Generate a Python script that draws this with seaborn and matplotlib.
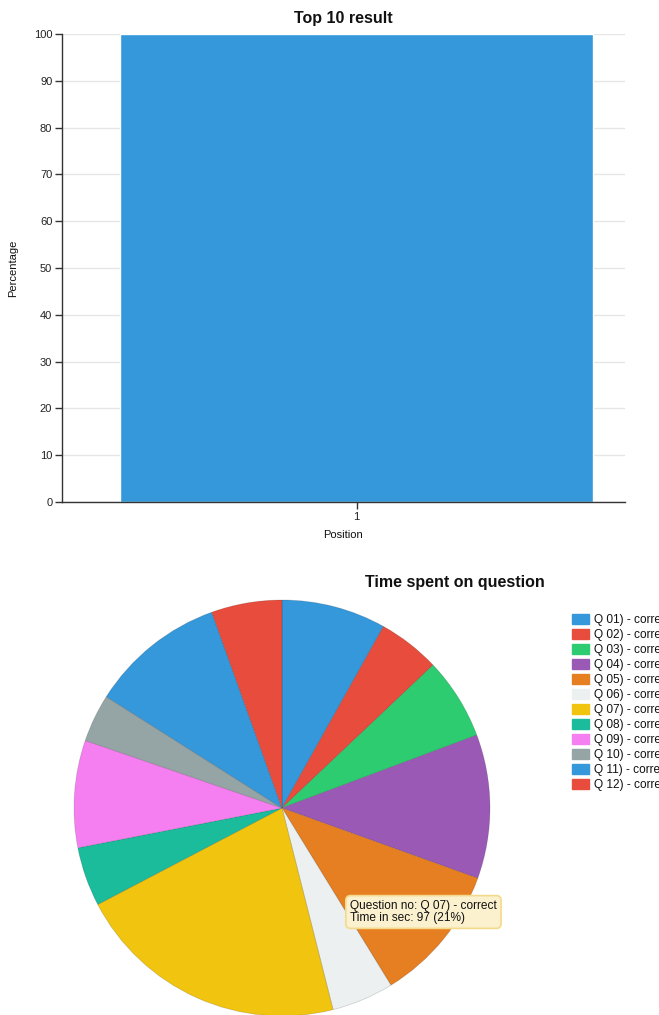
import numpy as np
import pandas as pd
import seaborn as sns
from matplotlib import pyplot as plt
from matplotlib.patches import Patch

# top chart data
positions = ['1']
percentages = [100]

# pie chart data (time in sec per question)
questions = ['Q 01', 'Q 02', 'Q 03', 'Q 04', 'Q 05', 'Q 06',
             'Q 07', 'Q 08', 'Q 09', 'Q 10', 'Q 11', 'Q 12']
results = ['correct'] * 12
seconds = [37, 22, 29, 51, 49, 22, 97, 21, 38, 17, 48, 25]
colors = ['#3498db', '#e74c3c', '#2ecc71', '#9b59b6', '#e67e22', '#ecf0f1',
          '#f1c40f', '#1abc9c', '#f57ff0', '#95a5a6', '#3498db', '#e74c3c']

sns.set_style('white')
plt.rcParams['font.family'] = ['Liberation Sans', 'DejaVu Sans']
plt.rcParams['text.color'] = '#111111'
plt.rcParams['axes.labelcolor'] = '#111111'

W, H = 659, 1015
fig = plt.figure(figsize=(W / 100, H / 100), dpi=100)

def box(x0, y0, x1, y1):
    # pixel box (top-left origin) -> figure fraction
    return [x0 / W, 1 - y1 / H, (x1 - x0) / W, (y1 - y0) / H]

# ---- bar chart ----
ax = fig.add_axes(box(62, 34, 625, 502))
df = pd.DataFrame({'Position': positions, 'Percentage': percentages})
sns.barplot(data=df, x='Position', y='Percentage', ax=ax, color='#3498db',
            saturation=1, width=0.8, zorder=2)
ax.set_xlim(-0.498, 0.454)
ax.set_ylim(0, 100)
ax.set_yticks(np.arange(0, 101, 10))
ax.grid(axis='y', color='#e6e6e6', linewidth=1, zorder=0)
ax.set_axisbelow(True)
for s in ['top', 'right']:
    ax.spines[s].set_visible(False)
for s in ['left', 'bottom']:
    ax.spines[s].set_color('#333333')
    ax.spines[s].set_linewidth(1)
ax.tick_params(axis='both', length=5, width=1, color='#333333',
               labelsize=8, labelcolor='#222222', pad=2, left=True, bottom=True)
ax.set_xlabel('Position', fontsize=8, labelpad=6)
ax.set_ylabel('Percentage', fontsize=8, labelpad=11)
ax.set_title('Top 10 result', fontsize=11.5, fontweight='bold', pad=8)

# ---- pie chart ----
cx, cy, r = 282, 808, 208
pax = fig.add_axes(box(cx - r, cy - r, cx + r, cy + r))
pax.pie(seconds, colors=colors, startangle=90, counterclock=False,
        wedgeprops=dict(linewidth=0.6, edgecolor=(0, 0, 0, 0.15)))
pax.set_xlim(-1, 1)
pax.set_ylim(-1, 1)
pax.set_aspect('equal')
pax.axis('off')

fig.text(455 / W, 1 - 582 / H, 'Time spent on question', fontsize=11.5,
         fontweight='bold', ha='center', va='center')

# legend labels are cut short in the original, keep the visible part
labels = ['{}) - {}'.format(q, res)[:13] for q, res in zip(questions, results)]
handles = [Patch(facecolor=c, edgecolor=c) for c in colors]
fig.legend(handles, labels, loc='upper left',
           bbox_to_anchor=(567 / W, 1 - 609 / H), frameon=False,
           fontsize=8.6, handlelength=1.45, handleheight=0.95,
           handletextpad=0.4, labelspacing=0.23, borderaxespad=0)

# tooltip for Q 07
idx = 6
pct = seconds[idx] / sum(seconds) * 100
fig.text(350 / W, 1 - 912 / H,
         'Question no: {}) - {}\nTime in sec: {} ({:.0f}%)'.format(
             questions[idx], results[idx], seconds[idx], pct),
         fontsize=8.6, ha='left', va='center', linespacing=1.05,
         bbox=dict(boxstyle='round,pad=0.35,rounding_size=0.4',
                   facecolor='#fcf1cf', edgecolor='#f3d98a', linewidth=1.2))

fig.savefig('out.png', dpi=100)
